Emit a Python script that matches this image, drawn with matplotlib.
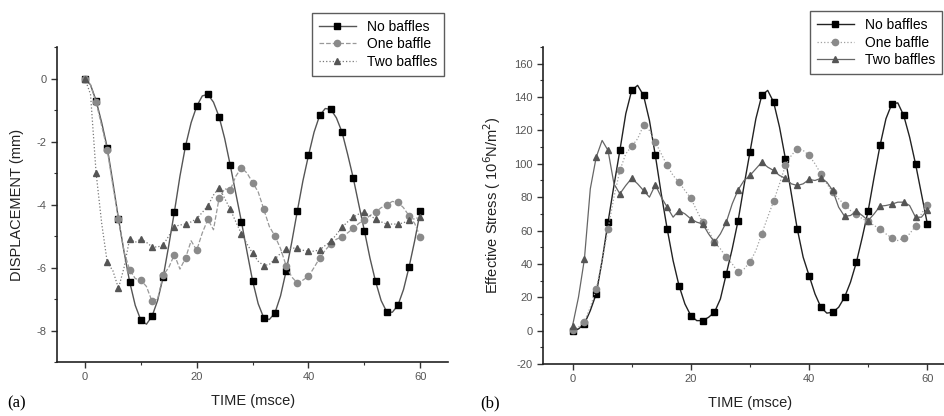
import numpy as np
import matplotlib
matplotlib.use("Agg")
import matplotlib.pyplot as plt
from matplotlib.ticker import MultipleLocator

plt.rcParams['font.family'] = ['Liberation Sans', 'DejaVu Sans']
plt.rcParams['axes.unicode_minus'] = False

# time axis (msce), one value per step, markers every 2
time = np.arange(0, 61)

# (a) displacement (mm)
disp_none = [0, -0.2, -0.7, -1.4, -2.2, -3.3, -4.45, -5.5, -6.45, -7.2,
             -7.67, -7.8, -7.55, -7.05, -6.3, -5.3, -4.24, -3.1, -2.14, -1.4,
             -0.88, -0.55, -0.5, -0.75, -1.21, -1.9, -2.75, -3.65, -4.54, -5.5,
             -6.42, -7.15, -7.6, -7.65, -7.44, -6.9, -6.11, -5.2, -4.21, -3.25,
             -2.44, -1.7, -1.17, -0.95, -0.98, -1.25, -1.7, -2.4, -3.15, -4.0,
             -4.83, -5.7, -6.44, -7.05, -7.41, -7.42, -7.2, -6.7, -5.98, -5.15,
             -4.22]
disp_one = [0, -0.2, -0.75, -1.5, -2.27, -3.4, -4.45, -5.5, -6.07, -6.35,
            -6.4, -6.6, -7.07, -7.0, -6.24, -6.0, -5.59, -6.05, -5.7, -5.15,
            -5.45, -4.9, -4.47, -4.8, -3.8, -3.5, -3.54, -3.1, -2.83, -3.0,
            -3.3, -3.6, -4.15, -4.7, -5.0, -5.4, -5.94, -6.3, -6.49, -6.4,
            -6.28, -6.0, -5.7, -5.45, -5.25, -5.1, -5.03, -4.9, -4.76, -4.6,
            -4.49, -4.35, -4.24, -4.1, -4.01, -3.9, -3.93, -4.1, -4.36, -4.6,
            -5.03]
disp_two = [0, -0.5, -3.0, -4.6, -5.84, -6.1, -6.66, -6.0, -5.09, -5.2,
            -5.09, -5.2, -5.34, -5.35, -5.28, -5.0, -4.7, -4.65, -4.62, -4.55,
            -4.45, -4.25, -4.04, -3.7, -3.46, -3.8, -4.15, -4.55, -4.93, -5.25,
            -5.55, -5.8, -5.94, -5.9, -5.73, -5.55, -5.42, -5.38, -5.39, -5.45,
            -5.49, -5.48, -5.44, -5.3, -5.17, -4.95, -4.72, -4.55, -4.4, -4.3,
            -4.25, -4.35, -4.46, -4.55, -4.62, -4.62, -4.62, -4.58, -4.5, -4.45,
            -4.4]

# (b) effective stress (10^6 N/m^2)
stress_none = [0, 1, 4, 12, 22, 42, 65, 87, 108, 130,
               144, 147, 141, 126, 105, 82, 61, 42, 27, 16,
               9, 6, 6, 8, 11, 19, 34, 49, 66, 87,
               107, 127, 141, 144, 137, 122, 103, 82, 61, 44,
               33, 22, 14, 10.5, 11, 14, 20, 29, 41, 56,
               72, 92, 111, 127, 136, 136.5, 129, 116, 100, 82,
               64]
stress_one = [0.4, 2, 5.4, 14, 25, 42, 61, 80, 96, 106,
              110.5, 115, 123, 120, 113, 106, 99, 93, 89, 84,
              79.4, 72, 65, 60, 53, 49, 44, 40, 35, 37,
              41, 48, 58, 68, 77.6, 88, 99, 105, 109, 108,
              105, 100, 94, 88, 83, 79, 75.5, 72, 70, 67,
              65.5, 63, 61, 58, 55.5, 54, 55.5, 58, 62.7, 70,
              75.5]
stress_two = [3, 20, 42.8, 85, 104, 114, 108, 88, 82, 87,
              91.3, 88, 84, 80, 87.4, 80, 74, 68, 72, 70,
              67, 65, 64, 58, 53, 58, 65, 76, 84.4, 90,
              93, 97, 101, 98, 96, 93, 91.3, 88, 87, 88,
              90.6, 90, 91.3, 89, 84, 74, 68.5, 69, 71.6, 69,
              66, 70, 74.6, 75, 75.8, 77, 77, 75, 68, 68,
              72.3]

labels = ["No baffles", "One baffle", "Two baffles"]
tick_col = "#555555"

fig = plt.figure(figsize=(9.45, 4.16), dpi=100)
ax1 = fig.add_axes([0.0603, 0.1298, 0.414, 0.757])
ax2 = fig.add_axes([0.5746, 0.125, 0.438, 0.762])


def style_axes(ax):
    for s in ["top", "right"]:
        ax.spines[s].set_visible(False)
    for s in ["left", "bottom"]:
        ax.spines[s].set_linewidth(1.2)
        ax.spines[s].set_color("#222222")
    ax.tick_params(which="major", direction="out", length=4, width=1,
                   colors="#333333", labelcolor=tick_col, labelsize=8)
    ax.tick_params(which="minor", direction="out", length=2.5, width=0.8,
                   colors="#333333")
    ax.xaxis.set_major_locator(MultipleLocator(20))
    ax.xaxis.set_minor_locator(MultipleLocator(10))
    ax.set_xlim(-5, 65)


# panel (a)
ax1.plot(time, disp_none, color="#555555", lw=1.0, ls="-", marker="s", ms=4,
         mfc="black", mec="black", markevery=2, label=labels[0])
ax1.plot(time, disp_one, color="#999999", lw=0.9, ls="--", marker="o", ms=4.5,
         mfc="#8a8a8a", mec="#8a8a8a", markevery=2, label=labels[1])
ax1.plot(time, disp_two, color="#777777", lw=0.9, ls=":", marker="^", ms=5,
         mfc="#555555", mec="#555555", markevery=2, label=labels[2])
style_axes(ax1)
ax1.set_ylim(-9, 1)
ax1.yaxis.set_minor_locator(MultipleLocator(1))
ax1.set_yticks([-8, -6, -4, -2, 0])
ax1.set_xlabel("TIME (msce)", fontsize=10.5, color="#222222", labelpad=8)
ax1.set_ylabel("DISPLACEMENT (mm)", fontsize=10.5, color="#222222", labelpad=9)
leg1 = ax1.legend(loc="upper right", bbox_to_anchor=(0.477, 0.986),
                  bbox_transform=fig.transFigure, fontsize=10, fancybox=False,
                  edgecolor="#333333", handlelength=2.6, borderpad=0.5,
                  labelspacing=0.25)
leg1.get_frame().set_linewidth(1.0)

# panel (b)
ax2.plot(time, stress_none, color="#222222", lw=1.0, ls="-", marker="s", ms=4,
         mfc="black", mec="black", markevery=2, label=labels[0])
ax2.plot(time, stress_one, color="#a0a0a0", lw=0.9, ls=":", marker="o", ms=4.5,
         mfc="#8a8a8a", mec="#8a8a8a", markevery=2, label=labels[1])
ax2.plot(time, stress_two, color="#666666", lw=0.9, ls="-", marker="^", ms=5,
         mfc="#555555", mec="#555555", markevery=2, label=labels[2])
style_axes(ax2)
ax2.set_ylim(-20, 170)
ax2.yaxis.set_minor_locator(MultipleLocator(10))
ax2.set_yticks(np.arange(-20, 161, 20))
ax2.set_xlabel("TIME (msce)", fontsize=10.5, color="#222222", labelpad=8)
ax2.set_ylabel("Effective Stress ( 10$^6$N/m$^2$)", fontsize=10.5,
               color="#222222", labelpad=8)
leg2 = ax2.legend(loc="upper right", bbox_to_anchor=(1.004, 0.99),
                  bbox_transform=fig.transFigure, fontsize=10, fancybox=False,
                  edgecolor="#333333", handlelength=2.6, borderpad=0.5,
                  labelspacing=0.25)
leg2.get_frame().set_linewidth(1.0)

fig.text(0.008, 0.02, "(a)", fontsize=12, family="Liberation Serif")
fig.text(0.508, 0.02, "(b)", fontsize=12, family="Liberation Serif")

fig.savefig("out.png", dpi=100)
